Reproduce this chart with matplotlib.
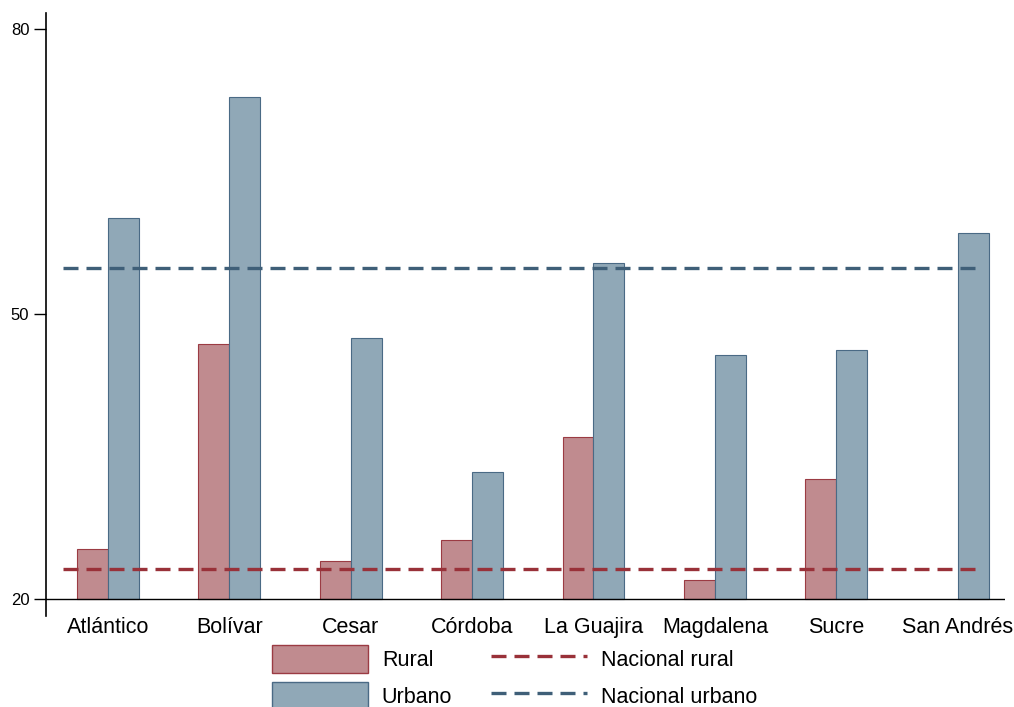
import matplotlib.pyplot as plt
from matplotlib.patches import Patch
from matplotlib.lines import Line2D
import numpy as np

plt.rcParams['font.family'] = ['Liberation Sans', 'DejaVu Sans']

departamentos = ['Atlántico', 'Bolívar', 'Cesar', 'Córdoba', 'La Guajira',
                 'Magdalena', 'Sucre', 'San Andrés']
rural = [25.3, 46.8, 24.0, 26.2, 37.1, 22.0, 32.6, np.nan]
urbano = [60.1, 72.9, 47.5, 33.4, 55.4, 45.7, 46.2, 58.5]
nacional_rural = 23.2
nacional_urbano = 54.8

c_rural = '#c08b8f'
c_rural_edge = '#9b3b43'
c_urb = '#90a8b7'
c_urb_edge = '#4a6a85'
c_nr = '#993139'
c_nu = '#3f5f78'
dash = (0, (4.5, 2.4))

fig = plt.figure(figsize=(10.14, 7.07), dpi=100)
ax = fig.add_axes([0.0454, 0.1287, 0.9457, 0.8529])

x = np.arange(len(departamentos))
w = 0.255
ax.bar(x - w/2, np.array(rural) - 20, w, bottom=20, color=c_rural,
       edgecolor=c_rural_edge, linewidth=0.8)
ax.bar(x + w/2, np.array(urbano) - 20, w, bottom=20, color=c_urb,
       edgecolor=c_urb_edge, linewidth=0.8)

ax.hlines(nacional_rural, -0.37, 7.2, colors=c_nr, linestyles=dash, linewidth=2.4)
ax.hlines(nacional_urbano, -0.37, 7.2, colors=c_nu, linestyles=dash, linewidth=2.4)

ax.set_xlim(-0.51, 7.39)
ax.set_ylim(18.2, 81.7)
ax.axhline(20, color='black', linewidth=1.0)

ax.set_yticks([20, 50, 80])
ax.tick_params(axis='y', direction='out', length=9, width=1, labelsize=12, pad=3)
ax.set_xticks(x)
ax.set_xticklabels(departamentos, fontsize=15.5)
ax.tick_params(axis='x', length=0, pad=0.5)

for s in ['top', 'right', 'bottom']:
    ax.spines[s].set_visible(False)
ax.spines['left'].set_linewidth(1.2)

handles = [Patch(facecolor=c_rural, edgecolor=c_rural_edge),
           Patch(facecolor=c_urb, edgecolor=c_urb_edge),
           Line2D([0], [0], color=c_nr, linestyle=dash, linewidth=2.4),
           Line2D([0], [0], color=c_nu, linestyle=dash, linewidth=2.4)]
labels = ['Rural', 'Urbano', 'Nacional rural', 'Nacional urbano']
fig.legend(handles, labels, ncol=2, loc='upper left', bbox_to_anchor=(272 / 1014, 1 - 645 / 707),
           frameon=False, fontsize=15.5, handlelength=4.45, handleheight=1.63,
           labelspacing=0.42, columnspacing=1.8, handletextpad=0.65, borderpad=0,
           borderaxespad=0)

fig.savefig('out.png', dpi=100)
